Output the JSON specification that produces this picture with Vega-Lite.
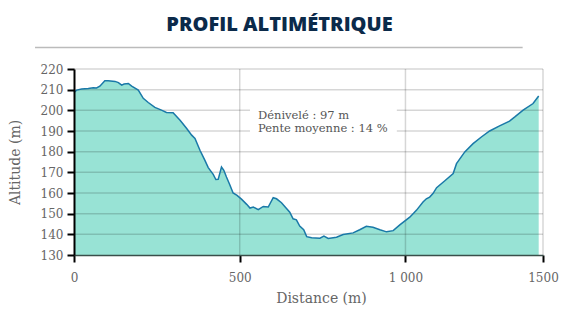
{
  "$schema": "https://vega.github.io/schema/vega-lite/v6.json",
  "width": 469,
  "height": 186,
  "autosize": {"type": "none"},
  "padding": {"left": 74, "top": 69, "right": 34, "bottom": 61},
  "background": "white",
  "title": {
    "text": "PROFIL ALTIMÉTRIQUE",
    "font": "Open Sans",
    "fontSize": 20,
    "fontWeight": 800,
    "color": "#0b2a4a",
    "anchor": "middle",
    "dx": -29,
    "offset": 12
  },
  "config": {
    "view": {"stroke": null},
    "axis": {
      "labelFont": "DejaVu Serif",
      "titleFont": "DejaVu Serif",
      "labelColor": "#666",
      "titleColor": "#666",
      "labelFontSize": 12,
      "titleFontSize": 14,
      "titleFontWeight": "normal",
      "grid": false,
      "labelOverlap": false,
      "labelFlush": false
    }
  },
  "datasets": {
    "profile": [
      {"d": 0, "alt": 208.7}, {"d": 8, "alt": 209.8}, {"d": 23, "alt": 210.3}, {"d": 43, "alt": 210.6},
      {"d": 58, "alt": 210.9}, {"d": 68, "alt": 210.8}, {"d": 78, "alt": 211.7}, {"d": 93, "alt": 214.3},
      {"d": 103, "alt": 214.3}, {"d": 124, "alt": 214.0}, {"d": 134, "alt": 213.4}, {"d": 144, "alt": 212.2},
      {"d": 151, "alt": 212.7}, {"d": 164, "alt": 213.0}, {"d": 174, "alt": 211.7}, {"d": 194, "alt": 209.8},
      {"d": 209, "alt": 205.8}, {"d": 224, "alt": 203.8}, {"d": 244, "alt": 201.4}, {"d": 264, "alt": 200.1},
      {"d": 279, "alt": 199.0}, {"d": 299, "alt": 198.8}, {"d": 320, "alt": 195.2}, {"d": 340, "alt": 191.2},
      {"d": 355, "alt": 188.0}, {"d": 365, "alt": 186.4}, {"d": 380, "alt": 180.7}, {"d": 395, "alt": 175.8},
      {"d": 405, "alt": 172.3}, {"d": 420, "alt": 169.0}, {"d": 428, "alt": 166.5}, {"d": 435, "alt": 166.6},
      {"d": 445, "alt": 172.6}, {"d": 452, "alt": 171.0}, {"d": 460, "alt": 167.7}, {"d": 470, "alt": 164.0},
      {"d": 480, "alt": 160.0}, {"d": 492, "alt": 158.8}, {"d": 506, "alt": 156.9}, {"d": 521, "alt": 154.5},
      {"d": 531, "alt": 152.7}, {"d": 541, "alt": 153.2}, {"d": 556, "alt": 151.9}, {"d": 571, "alt": 153.5},
      {"d": 586, "alt": 153.2}, {"d": 601, "alt": 157.7}, {"d": 611, "alt": 157.2}, {"d": 626, "alt": 155.3},
      {"d": 651, "alt": 150.7}, {"d": 661, "alt": 147.5}, {"d": 671, "alt": 147.0}, {"d": 681, "alt": 144.0},
      {"d": 693, "alt": 142.2}, {"d": 702, "alt": 138.9}, {"d": 717, "alt": 138.3}, {"d": 742, "alt": 138.1},
      {"d": 754, "alt": 139.1}, {"d": 767, "alt": 138.0}, {"d": 792, "alt": 138.6}, {"d": 812, "alt": 139.9},
      {"d": 842, "alt": 140.7}, {"d": 862, "alt": 142.2}, {"d": 882, "alt": 143.9}, {"d": 902, "alt": 143.4},
      {"d": 923, "alt": 142.2}, {"d": 943, "alt": 141.2}, {"d": 963, "alt": 141.8}, {"d": 983, "alt": 144.6},
      {"d": 1013, "alt": 148.3}, {"d": 1033, "alt": 151.6}, {"d": 1053, "alt": 155.6}, {"d": 1063, "alt": 157.2},
      {"d": 1073, "alt": 158.0}, {"d": 1083, "alt": 159.7}, {"d": 1094, "alt": 162.6}, {"d": 1118, "alt": 165.8},
      {"d": 1144, "alt": 169.4}, {"d": 1154, "alt": 174.2}, {"d": 1179, "alt": 179.9}, {"d": 1204, "alt": 183.9},
      {"d": 1229, "alt": 187.1}, {"d": 1254, "alt": 190.0}, {"d": 1284, "alt": 192.5}, {"d": 1314, "alt": 194.8},
      {"d": 1330, "alt": 196.8}, {"d": 1355, "alt": 200.1}, {"d": 1385, "alt": 203.3}, {"d": 1402, "alt": 206.9}
    ],
    "hgrid": [{"v": 140}, {"v": 150}, {"v": 160}, {"v": 170}, {"v": 180}, {"v": 190}, {"v": 200}, {"v": 210}, {"v": 220}],
    "vgrid": [{"v": 500}, {"v": 1000}, {"v": 1415}]
  },
  "layer": [
    {
      "data": {"name": "profile"},
      "mark": {"type": "area", "color": "#98e3d5", "opacity": 1},
      "encoding": {
        "x": {
          "field": "d", "type": "quantitative",
          "scale": {"domain": [0, 1415], "nice": false, "zero": false},
          "axis": {
            "title": "Distance (m)",
            "values": [0, 500, 1000, 1415],
            "labelExpr": "datum.value == 1000 ? '1 000' : datum.value == 1415 ? '1500' : datum.label",
            "domainColor": "#3a4f4a",
            "domainWidth": 1.5,
            "tickColor": "#000",
            "tickWidth": 2,
            "tickSize": 7,
            "labelPadding": 10,
            "titleX": 247,
            "titleY": 36,
            "titleBaseline": "top",
            "zindex": 1
          }
        },
        "y": {
          "field": "alt", "type": "quantitative",
          "scale": {"domain": [130, 220], "nice": false, "zero": false},
          "axis": {
            "title": "Altitude (m)",
            "values": [130, 140, 150, 160, 170, 180, 190, 200, 210, 220],
            "tickCount": 10,
            "labelOverlap": false,
            "domainColor": "#000",
            "domainWidth": 2,
            "tickColor": "#000",
            "tickWidth": 2,
            "tickSize": 7,
            "labelPadding": 4,
            "titleX": -52,
            "titleY": 93,
            "titleAngle": 270,
            "titleBaseline": "bottom",
            "titleAlign": "center",
            "zindex": 1
          }
        },
        "y2": {"datum": 130}
      }
    },
    {
      "data": {"name": "hgrid"},
      "mark": {"type": "rule", "color": "#000", "opacity": 0.16, "strokeWidth": 1.5},
      "encoding": {"y": {"field": "v", "type": "quantitative"}}
    },
    {
      "data": {"name": "vgrid"},
      "mark": {"type": "rule", "color": "#000", "opacity": 0.16, "strokeWidth": 1.5},
      "encoding": {"x": {"field": "v", "type": "quantitative"}}
    },
    {
      "data": {"name": "profile"},
      "mark": {"type": "line", "color": "#1a79a8", "strokeWidth": 1.5},
      "encoding": {
        "x": {"field": "d", "type": "quantitative"},
        "y": {"field": "alt", "type": "quantitative"}
      }
    },
    {
      "data": {"values": [{}]},
      "mark": {"type": "rect", "color": "white"},
      "encoding": {
        "x": {"datum": 531, "type": "quantitative"},
        "x2": {"datum": 974},
        "y": {"datum": 183, "type": "quantitative"},
        "y2": {"datum": 207.5}
      }
    },
    {
      "data": {"values": [{}]},
      "mark": {"type": "text", "align": "left", "baseline": "top", "font": "DejaVu Serif", "fontSize": 11.5, "color": "#555", "lineHeight": 13},
      "encoding": {
        "x": {"datum": 555, "type": "quantitative"},
        "y": {"datum": 200.4, "type": "quantitative"},
        "text": {"value": ["Dénivelé : 97 m", "Pente moyenne : 14 %"]}
      }
    },
    {
      "data": {"values": [{}]},
      "mark": {"type": "rule", "color": "#bbbbbb", "strokeWidth": 1.5, "clip": false},
      "encoding": {
        "x": {"datum": -117.6, "type": "quantitative"},
        "x2": {"datum": 1353.6},
        "y": {"datum": 230.4, "type": "quantitative"}
      }
    }
  ]
}
